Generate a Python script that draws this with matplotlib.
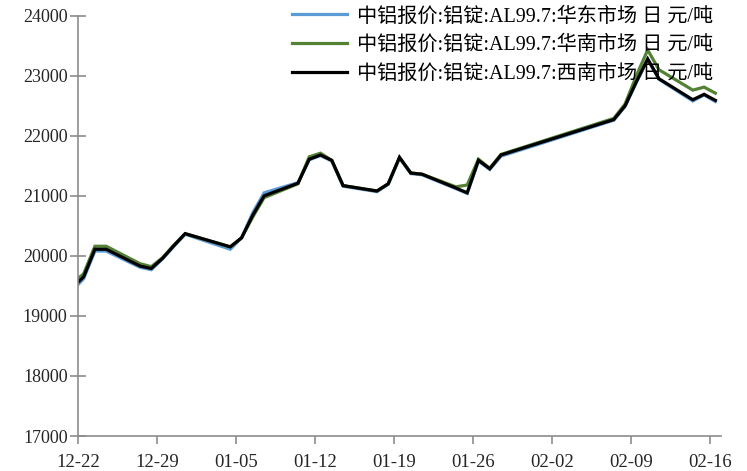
import matplotlib
matplotlib.use("Agg")
import matplotlib.pyplot as plt
import matplotlib.dates as mdates
import pandas as pd

dates = ['2021-12-21','2021-12-22','2021-12-23','2021-12-24','2021-12-27','2021-12-28',
         '2021-12-29','2021-12-30','2021-12-31','2022-01-04','2022-01-05','2022-01-06',
         '2022-01-07','2022-01-10','2022-01-11','2022-01-12','2022-01-13','2022-01-14',
         '2022-01-17','2022-01-18','2022-01-19','2022-01-20','2022-01-21','2022-01-24',
         '2022-01-25','2022-01-26','2022-01-27','2022-01-28','2022-02-07','2022-02-08',
         '2022-02-09','2022-02-10','2022-02-11','2022-02-14','2022-02-15','2022-02-16']

east = [19420, 19620, 20080, 20080, 19810, 19770, 19950, 20160, 20360, 20110, 20300, 20720,
        21050, 21220, 21600, 21670, 21580, 21160, 21070, 21190, 21630, 21370, 21350, 21120,
        21040, 21580, 21440, 21660, 22260, 22490, 22890, 23270, 22940, 22580, 22680, 22570]
south = [19550, 19700, 20160, 20160, 19870, 19820, 19970, 20180, 20370, 20150, 20300, 20650,
         20970, 21200, 21650, 21710, 21590, 21170, 21080, 21200, 21640, 21380, 21360, 21150,
         21180, 21610, 21460, 21690, 22290, 22530, 23000, 23430, 23100, 22760, 22810, 22710]
southwest = [19470, 19650, 20110, 20110, 19830, 19790, 19960, 20170, 20370, 20150, 20300, 20680,
             21000, 21210, 21610, 21680, 21590, 21170, 21080, 21200, 21640, 21380, 21360, 21130,
             21050, 21590, 21450, 21680, 22270, 22500, 22900, 23280, 22950, 22600, 22690, 22590]

labels = ['中铝报价:铝锭:AL99.7:华东市场 日 元/吨',
          '中铝报价:铝锭:AL99.7:华南市场 日 元/吨',
          '中铝报价:铝锭:AL99.7:西南市场 日 元/吨']
colors = ['#5B9BD5', '#548235', '#000000']

plt.rcParams['font.family'] = ['Liberation Serif', 'Noto Sans CJK SC', 'DejaVu Sans']

x = pd.to_datetime(dates) + pd.Timedelta(hours=12)

fig = plt.figure(figsize=(7.47, 4.71), dpi=100)
ax = fig.add_axes([0.1044, 0.0743, 0.9652 - 0.1044, 0.9667 - 0.0743])

for vals, lab, c in zip([east, south, southwest], labels, colors):
    ax.plot(x, vals, color=c, lw=2.3, label=lab, solid_joinstyle='miter')

ax.set_ylim(17000, 24000)
ax.set_yticks(range(17000, 24001, 1000))
ax.set_xlim(pd.Timestamp('2021-12-22'), pd.Timestamp('2022-02-17'))
ticks = pd.date_range('2021-12-22', '2022-02-16', freq='7D')
ax.set_xticks(ticks)
ax.xaxis.set_major_formatter(mdates.DateFormatter('%m-%d'))

for s in ['top', 'right']:
    ax.spines[s].set_visible(False)
for s in ['left', 'bottom']:
    ax.spines[s].set_color('#8c8c8c')
    ax.spines[s].set_linewidth(1.2)

ax.tick_params(axis='y', direction='inout', length=11, width=1.2, color='#8c8c8c',
               labelsize=13, labelcolor='#262626', pad=2)
ax.tick_params(axis='x', direction='out', length=6, width=1.2, color='#8c8c8c',
               labelsize=13.5, labelcolor='#262626', pad=7)

leg = ax.legend(loc='upper right', bbox_to_anchor=(1.0, 1.04), frameon=False,
                fontsize=14.5, handlelength=2.7, handletextpad=0.5, labelspacing=0.47,
                borderaxespad=0.0)

fig.savefig('out.png', dpi=100)
